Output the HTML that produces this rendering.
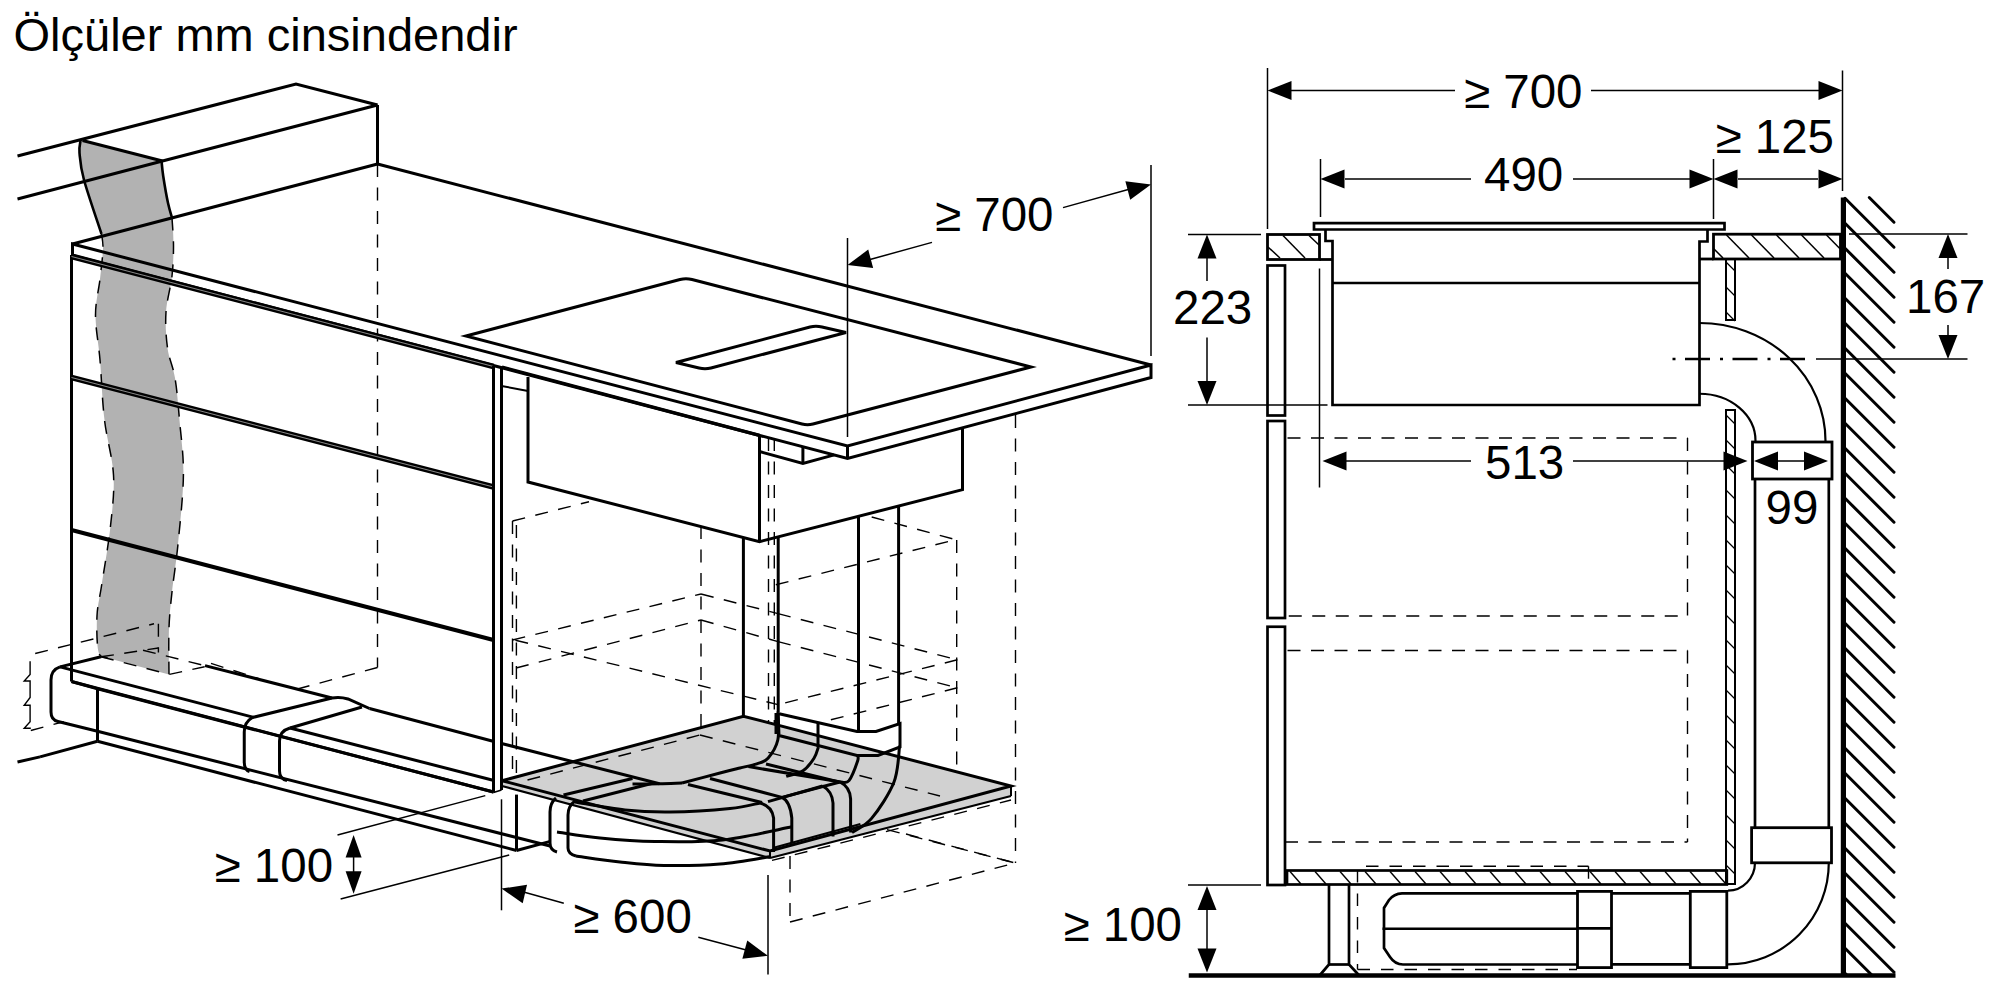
<!DOCTYPE html>
<html><head><meta charset="utf-8"><style>
html,body{margin:0;padding:0;background:#fff;width:2000px;height:1000px;overflow:hidden}
svg{display:block}
</style></head><body>
<svg width="2000" height="1000" viewBox="0 0 2000 1000" style="font-family:'Liberation Sans',sans-serif">
<rect width="2000" height="1000" fill="#fff"/>
<g stroke="#000" fill="none">
<path d="M80.5,141 C80.3,143.0 78.9,146.5 79.5,153 C80.1,159.5 80.3,166.5 84,180 C87.7,193.5 98.3,222.5 101.5,234 C104.7,245.5 103.2,241.5 103,249 C102.8,256.5 101.2,268.0 100,279 C98.8,290.0 95.5,301.5 95.5,315 C95.5,328.5 98.5,342.5 100,360 C101.5,377.5 102.2,400.8 104.5,420 C106.8,439.2 112.5,457.3 113.5,475 C114.5,492.7 112.5,507.5 110.5,526 C108.5,544.5 103.8,571.0 101.5,586 C99.2,601.0 97.5,605.0 97,616 C96.5,627.0 96.8,645.0 98.5,652 C100.2,659.0 106.0,657.0 107.5,658 L169,674.5 C169.0,666.8 168.5,641.8 169,628 C169.5,614.2 170.5,606.0 172,592 C173.5,578.0 176.1,563.5 178,544 C179.9,524.5 183.2,495.7 183.4,475 C183.7,454.3 180.9,436.2 179.5,420 C178.1,403.8 177.0,390.0 175,378 C173.0,366.0 169.0,359.0 167.5,348 C166.0,337.0 165.2,324.0 166,312 C166.8,300.0 170.8,287.0 172,276 C173.2,265.0 173.5,255.7 173.5,246 C173.5,236.3 172.9,224.8 172,217.6 C171.1,210.4 169.5,209.9 168,203 C166.5,196.1 164.3,183.1 163.2,176 C162.1,168.9 161.8,163.1 161.5,160.5 Z" fill="#b2b2b2" stroke="none"/>
<path d="M80.5,141 C80.3,143.0 78.9,146.5 79.5,153 C80.1,159.5 80.3,166.5 84,180 C87.7,193.5 98.6,225.0 101.5,234" stroke-width="2.6" fill="none" />
<path d="M161.5,160.5 C161.8,163.1 162.1,168.9 163.2,176 C164.3,183.1 166.5,196.1 168,203 C169.5,209.9 171.3,215.2 172,217.6" stroke-width="2.6" fill="none" />
<path d="M101.5,234 C101.8,236.5 103.2,241.5 103,249 C102.8,256.5 101.2,268.0 100,279 C98.8,290.0 95.5,301.5 95.5,315 C95.5,328.5 98.5,342.5 100,360 C101.5,377.5 102.2,400.8 104.5,420 C106.8,439.2 112.5,457.3 113.5,475 C114.5,492.7 112.5,507.5 110.5,526 C108.5,544.5 103.8,571.0 101.5,586 C99.2,601.0 97.5,605.0 97,616 C96.5,627.0 96.8,645.0 98.5,652 C100.2,659.0 106.0,657.0 107.5,658" stroke-width="1.5" fill="none" stroke-dasharray="13 10.5" />
<path d="M172,217.6 C172.2,222.3 173.5,236.3 173.5,246 C173.5,255.7 173.2,265.0 172,276 C170.8,287.0 166.8,300.0 166,312 C165.2,324.0 166.0,337.0 167.5,348 C169.0,359.0 173.0,366.0 175,378 C177.0,390.0 178.1,403.8 179.5,420 C180.9,436.2 183.7,454.3 183.4,475 C183.2,495.7 179.9,524.5 178,544 C176.1,563.5 173.5,578.0 172,592 C170.5,606.0 169.5,614.2 169,628 C168.5,641.8 169.0,666.8 169,674.5" stroke-width="1.5" fill="none" stroke-dasharray="13 10.5" />
<polyline points="17.5,156 296,84 377.5,105" stroke-width="3.0" fill="none" stroke-linejoin="miter"/>
<polyline points="17.5,199 162.5,161 377.5,105" stroke-width="3.0" fill="none" stroke-linejoin="miter"/>
<line x1="82.5" y1="140.5" x2="162.5" y2="161" stroke-width="3.0" stroke-linecap="butt"/>
<line x1="377.5" y1="105" x2="377.5" y2="164" stroke-width="3.0" stroke-linecap="butt"/>
<line x1="377.5" y1="164" x2="377.5" y2="667.5" stroke-width="1.4" stroke-dasharray="13 10.5" stroke-linecap="butt"/>
<line x1="377.5" y1="667.5" x2="297.5" y2="689" stroke-width="1.4" stroke-dasharray="13 10.5" stroke-linecap="butt"/>
<polyline points="72.5,244 377.5,164" stroke-width="3.0" fill="none" stroke-linejoin="miter"/>
<line x1="377.5" y1="164" x2="1151" y2="365" stroke-width="3.0" stroke-linecap="butt"/>
<polyline points="72.5,255 72.5,244 847.5,446 1151,365 1151,377.5 847.5,458.5 72.5,255" stroke-width="3.0" fill="none" stroke-linejoin="miter"/>
<line x1="847.5" y1="446" x2="847.5" y2="458.5" stroke-width="3.0" stroke-linecap="butt"/>
<path d="M466,336 L680,279.5 Q686,278 692,279.5 L1031,367 L813,424 Q807.5,425.5 802,424 Z" stroke-width="3.0" fill="none" />
<path d="M676,362.5 L810,327 Q816,325.5 822,327 L846,332.5 L711,368 Q705,369.5 699,368 Z" stroke-width="3.0" fill="none" />
<line x1="71.5" y1="255" x2="71.5" y2="681.5" stroke-width="3.0" stroke-linecap="butt"/>
<line x1="71.5" y1="256.5" x2="493.5" y2="366.5" stroke-width="5.5" stroke-linecap="butt"/>
<line x1="71.5" y1="256.5" x2="493.5" y2="366.5" stroke="#999" stroke-width="0.9"/>
<line x1="71.5" y1="377.5" x2="493.5" y2="487" stroke-width="5.5" stroke-linecap="butt"/>
<line x1="71.5" y1="377.5" x2="493.5" y2="487" stroke="#999" stroke-width="0.9"/>
<line x1="71.5" y1="530" x2="493.5" y2="640" stroke-width="4.2" stroke-linecap="butt"/>
<line x1="493.5" y1="366" x2="493.5" y2="792.6" stroke-width="3.0" stroke-linecap="butt"/>
<line x1="501.5" y1="368" x2="501.5" y2="790" stroke-width="3.0" stroke-linecap="butt"/>
<line x1="71.5" y1="681.5" x2="493.5" y2="792" stroke-width="3.0" stroke-linecap="butt"/>
<line x1="493.5" y1="792.6" x2="501.5" y2="790" stroke-width="1.6" stroke-linecap="butt"/>
<line x1="501.5" y1="386" x2="528" y2="391" stroke-width="2.0" stroke-linecap="butt"/>
<polyline points="502,367 759.5,435.4" stroke-width="3.2" fill="none" stroke-linejoin="miter"/>
<polyline points="528,377 528,482 759.5,541.6 962.5,489.7 962.5,428.5" stroke-width="3.0" fill="none" stroke-linejoin="miter"/>
<line x1="759.5" y1="436" x2="759.5" y2="541.6" stroke-width="3.0" stroke-linecap="butt"/>
<polyline points="759.5,451.5 802.9,463.4 834.3,454.9" stroke-width="3.0" fill="none" stroke-linejoin="miter"/>
<line x1="802.9" y1="447" x2="802.9" y2="463.4" stroke-width="3.0" stroke-linecap="butt"/>
<line x1="768.5" y1="438" x2="768.5" y2="859" stroke-width="1.4" stroke-dasharray="13 10.5" stroke-linecap="butt"/>
<line x1="774.3" y1="438" x2="774.3" y2="850" stroke-width="1.4" stroke-dasharray="13 10.5" stroke-linecap="butt"/>
<line x1="743.4" y1="538" x2="743.4" y2="716.2" stroke-width="3.0" stroke-linecap="butt"/>
<line x1="778.2" y1="536.5" x2="778.2" y2="712" stroke-width="3.0" stroke-linecap="butt"/>
<line x1="858.5" y1="517" x2="858.5" y2="731.6" stroke-width="3.0" stroke-linecap="butt"/>
<line x1="898.6" y1="506.7" x2="898.6" y2="723" stroke-width="3.0" stroke-linecap="butt"/>
<line x1="1015.5" y1="415" x2="1015.5" y2="863" stroke-width="1.4" stroke-dasharray="13 10.5" stroke-linecap="butt"/>
<line x1="512.5" y1="521" x2="589" y2="501.7" stroke-width="1.4" stroke-dasharray="13 10.5" stroke-linecap="butt"/>
<line x1="512.5" y1="521" x2="512.5" y2="780" stroke-width="1.4" stroke-dasharray="13 10.5" stroke-linecap="butt"/>
<line x1="516.4" y1="525" x2="516.4" y2="780" stroke-width="1.4" stroke-dasharray="13 10.5" stroke-linecap="butt"/>
<line x1="871.7" y1="517" x2="956.7" y2="539.9" stroke-width="1.4" stroke-dasharray="13 10.5" stroke-linecap="butt"/>
<line x1="956.7" y1="539.9" x2="956.7" y2="793" stroke-width="1.4" stroke-dasharray="13 10.5" stroke-linecap="butt"/>
<line x1="948" y1="541.6" x2="774.8" y2="585" stroke-width="1.4" stroke-dasharray="13 10.5" stroke-linecap="butt"/>
<line x1="778" y1="613.6" x2="957.4" y2="659.8" stroke-width="1.4" stroke-dasharray="13 10.5" stroke-linecap="butt"/>
<line x1="778" y1="641.6" x2="957.4" y2="687.8" stroke-width="1.4" stroke-dasharray="13 10.5" stroke-linecap="butt"/>
<line x1="957.4" y1="659.8" x2="778" y2="704.6" stroke-width="1.4" stroke-dasharray="13 10.5" stroke-linecap="butt"/>
<line x1="957.4" y1="687.8" x2="830" y2="720" stroke-width="1.4" stroke-dasharray="13 10.5" stroke-linecap="butt"/>
<line x1="701" y1="526" x2="701" y2="735" stroke-width="1.4" stroke-dasharray="13 10.5" stroke-linecap="butt"/>
<line x1="512.5" y1="640" x2="701" y2="594" stroke-width="1.4" stroke-dasharray="13 10.5" stroke-linecap="butt"/>
<line x1="701" y1="594" x2="778" y2="613.6" stroke-width="1.4" stroke-dasharray="13 10.5" stroke-linecap="butt"/>
<line x1="515.4" y1="640.2" x2="778" y2="704.6" stroke-width="1.4" stroke-dasharray="13 10.5" stroke-linecap="butt"/>
<line x1="516" y1="668" x2="701" y2="620" stroke-width="1.4" stroke-dasharray="13 10.5" stroke-linecap="butt"/>
<line x1="701" y1="620" x2="778" y2="641.6" stroke-width="1.4" stroke-dasharray="13 10.5" stroke-linecap="butt"/>
<line x1="790" y1="856" x2="790" y2="922" stroke-width="1.4" stroke-dasharray="13 10.5" stroke-linecap="butt"/>
<line x1="790" y1="922" x2="1015" y2="863" stroke-width="1.4" stroke-dasharray="13 10.5" stroke-linecap="butt"/>
<line x1="906" y1="834" x2="1015" y2="863" stroke-width="1.4" stroke-dasharray="13 10.5" stroke-linecap="butt"/>
<polygon points="743.5,716.2 502,780.7 502,786 770,858 1011,796 1011,786" fill="#d1d1d1" stroke="none"/>
<polyline points="502,780.7 743.5,716.2 1011,786 770,851 502,780.7" stroke-width="3.0" fill="none" stroke-linejoin="miter"/>
<line x1="502" y1="780.7" x2="502" y2="786" stroke-width="2.0" stroke-linecap="butt"/>
<line x1="502" y1="786" x2="770" y2="858" stroke-width="2.0" stroke-linecap="butt"/>
<line x1="770" y1="858" x2="1011" y2="796" stroke-width="2.0" stroke-linecap="butt"/>
<line x1="1011" y1="786" x2="1011" y2="796" stroke-width="2.0" stroke-linecap="butt"/>
<line x1="770" y1="851" x2="770" y2="858" stroke-width="2.0" stroke-linecap="butt"/>
<line x1="527.5" y1="780" x2="700" y2="735" stroke-width="1.4" stroke-dasharray="13 10.5" stroke-linecap="butt"/>
<line x1="700" y1="735" x2="940" y2="796" stroke-width="1.4" stroke-dasharray="13 10.5" stroke-linecap="butt"/>
<line x1="772" y1="860.4" x2="1011" y2="800" stroke-width="1.4" stroke-dasharray="13 10.5" stroke-linecap="butt"/>
<line x1="887" y1="829.6" x2="1015" y2="863" stroke-width="1.4" stroke-dasharray="13 10.5" stroke-linecap="butt"/>
<path d="M563.5,795 L632.5,778.5" stroke-width="3.0" fill="none" />
<path d="M583,801 L653.5,783" stroke-width="3.0" fill="none" />
<path d="M556,798 Q550,803 550,812 L550,843 Q550,850 557,852" stroke-width="3.0" fill="none" />
<path d="M575,801 Q568,806 568,815 L568,848 Q568,854 576,856" stroke-width="3.0" fill="none" />
<path d="M575,802 C583.3,803.3 609.2,808.3 625,810 C640.8,811.7 652.5,812.2 670,812 C687.5,811.8 715.0,810.0 730,808.5 C745.0,807.0 755.0,803.9 760,803" stroke-width="3.0" fill="none" />
<path d="M760,803 Q772,806 773.6,818 L773.6,852" stroke-width="3.0" fill="none" />
<path d="M557,832 C564.2,833.0 583.7,836.4 600,838 C616.3,839.6 634.6,841.2 655,841.5 C675.4,841.8 699.7,842.5 722.5,840 C745.3,837.5 780.2,829.0 791.8,826.8" stroke-width="3.0" fill="none" />
<path d="M576,856 C583.3,857.0 605.3,860.4 620,862 C634.7,863.6 647.3,865.2 664,865.5 C680.7,865.8 702.2,865.5 720,864 C737.8,862.5 762.1,857.8 770.5,856.5" stroke-width="3.0" fill="none" />
<path d="M632.5,784 C637.0,784.0 651.2,783.9 659.5,783.75 C667.8,783.6 678.2,783.1 682,783" stroke-width="3.0" fill="none" />
<path d="M682,783 C688.3,781.3 710.3,775.5 720,773 C729.7,770.5 733.9,769.5 740,768 C746.1,766.5 752.1,765.4 756.8,763.8 C761.5,762.2 764.5,762.2 768,758.2 C771.5,754.2 776.1,747.5 777.8,740 C779.5,732.5 778.0,717.5 778,713" stroke-width="3.0" fill="none" />
<line x1="688" y1="784.5" x2="762" y2="802.5" stroke-width="3.0" stroke-linecap="butt"/>
<line x1="710" y1="778.5" x2="782" y2="797.4" stroke-width="3.0" stroke-linecap="butt"/>
<line x1="748.4" y1="766.6" x2="840.8" y2="782" stroke-width="3.0" stroke-linecap="butt"/>
<line x1="766" y1="764" x2="839" y2="782" stroke-width="3.0" stroke-linecap="butt"/>
<path d="M782,797.4 Q790,801 791.8,818 L791.8,843.6" stroke-width="3.0" fill="none" />
<path d="M822.6,786 Q832,791 833,803 L833,836.6" stroke-width="3.0" fill="none" />
<path d="M840,782 Q850,787 850.6,798.8 L850.6,832.4" stroke-width="3.0" fill="none" />
<line x1="768" y1="801.6" x2="822.6" y2="786" stroke-width="3.0" stroke-linecap="butt"/>
<line x1="782" y1="797.4" x2="840" y2="782" stroke-width="3.0" stroke-linecap="butt"/>
<line x1="773.6" y1="847.8" x2="860.4" y2="824" stroke-width="2.0" stroke-linecap="butt"/>
<path d="M778,713.5 L857,731.5 L876,731.5 L900,723.5 L900,747 L878,755.5 L857,755.5 L779,735.5 Z" stroke-width="3.0" fill="none" />
<line x1="818" y1="722" x2="818" y2="747" stroke-width="3.0" stroke-linecap="butt"/>
<line x1="776" y1="713" x2="776" y2="734" stroke-width="3.0" stroke-linecap="butt"/>
<path d="M818.4,747 C817.7,748.9 816.6,754.2 814,758.2 C811.4,762.2 807.6,767.8 803,770.8 C798.4,773.8 789.0,775.5 786.2,776.4" stroke-width="3.0" fill="none" />
<path d="M857.6,755.5 C857.6,756.4 859.0,756.8 857.6,761 C856.2,765.2 851.8,777.1 849,780.6 C846.2,784.1 842.2,781.8 840.8,782" stroke-width="3.0" fill="none" />
<path d="M899.6,745.6 C898.7,751.7 898.7,769.9 894,782 C889.3,794.1 878.6,810.0 871.6,818.4 C864.6,826.8 855.3,830.1 852,832.4" stroke-width="3.0" fill="none" />
<line x1="60" y1="666.9" x2="253.75" y2="717.4" stroke-width="3.0" stroke-linecap="butt"/>
<path d="M60,666.9 Q51,670 51,680 L51,712 Q51,720 58,721.5 L97.5,731.25" stroke-width="3.0" fill="none" />
<line x1="97.5" y1="731.25" x2="516.5" y2="837.5" stroke-width="3.0" stroke-linecap="butt"/>
<line x1="516.5" y1="837.5" x2="550" y2="846" stroke-width="3.0" stroke-linecap="butt"/>
<line x1="516.5" y1="850.5" x2="550.3" y2="841.4" stroke-width="3.0" stroke-linecap="butt"/>
<line x1="516.5" y1="794.6" x2="516.5" y2="850.5" stroke-width="3.0" stroke-linecap="butt"/>
<line x1="71.5" y1="681.5" x2="97.5" y2="688.75" stroke-width="3.0" stroke-linecap="butt"/>
<line x1="97.5" y1="688.75" x2="493.5" y2="792" stroke-width="3.0" stroke-linecap="butt"/>
<line x1="97.5" y1="688.75" x2="97.5" y2="741.25" stroke-width="3.0" stroke-linecap="butt"/>
<line x1="40" y1="756.9" x2="97.5" y2="741.25" stroke-width="3.0" stroke-linecap="butt"/>
<line x1="17.5" y1="762" x2="40" y2="756.9" stroke-width="3.0" stroke-linecap="butt"/>
<line x1="97.5" y1="741.25" x2="516.5" y2="850.5" stroke-width="3.0" stroke-linecap="butt"/>
<line x1="205" y1="665.6" x2="332" y2="698" stroke-width="3.0" stroke-linecap="butt"/>
<line x1="369.5" y1="708.5" x2="494" y2="741.5" stroke-width="3.0" stroke-linecap="butt"/>
<line x1="501.5" y1="743.5" x2="659.5" y2="783.75" stroke-width="3.0" stroke-linecap="butt"/>
<polyline points="60,666.9 101,656.8" stroke-width="3.0" fill="none" stroke-linejoin="miter"/>
<line x1="35.2" y1="653.5" x2="154" y2="623.8" stroke-width="1.4" stroke-dasharray="13 10.5" stroke-linecap="butt"/>
<line x1="158.4" y1="623.8" x2="158.4" y2="652.4" stroke-width="1.4" stroke-dasharray="13 10.5" stroke-linecap="butt"/>
<line x1="101" y1="656.8" x2="158.4" y2="648" stroke-width="1.4" stroke-dasharray="13 10.5" stroke-linecap="butt"/>
<line x1="143" y1="650.2" x2="204.6" y2="665.6" stroke-width="1.4" stroke-dasharray="13 10.5" stroke-linecap="butt"/>
<line x1="211" y1="663.4" x2="259.6" y2="678.8" stroke-width="1.4" stroke-dasharray="13 10.5" stroke-linecap="butt"/>
<line x1="169.4" y1="674.4" x2="204.6" y2="666.7" stroke-width="1.4" stroke-dasharray="13 10.5" stroke-linecap="butt"/>
<line x1="101" y1="656.8" x2="169.4" y2="674.4" stroke-width="1.4" stroke-dasharray="13 10.5" stroke-linecap="butt"/>
<path d="M30.1,661.2 V674.4 L24.2,681 H30.1 V697.5 L24.2,705.2 H30.1 V721.7 L24.2,728.3 H30.8" stroke-width="1.4" fill="none" />
<line x1="30.8" y1="730.5" x2="63.8" y2="721.7" stroke-width="1.4" stroke-dasharray="13 10.5" stroke-linecap="butt"/>
<path d="M252.5,717.5 L332,698 Q340,696.5 348,699 L369.5,708.5" stroke-width="3.0" fill="none" />
<line x1="290" y1="728" x2="362" y2="707" stroke-width="3.0" stroke-linecap="butt"/>
<path d="M252.5,717.5 Q244.25,722 244.25,732 L244.25,762 Q244.25,770 249.5,771.5" stroke-width="3.0" fill="none" />
<path d="M290,728 Q279.5,731 279.5,741 L279.5,771 Q279.5,779 287,780.5" stroke-width="3.0" fill="none" />
<line x1="290" y1="728" x2="494" y2="780.5" stroke-width="3.0" stroke-linecap="butt"/>
<line x1="847.5" y1="238" x2="847.5" y2="437" stroke-width="1.5" stroke-linecap="butt"/>
<line x1="1151" y1="165" x2="1151" y2="356" stroke-width="1.5" stroke-linecap="butt"/>
<line x1="932" y1="242.4" x2="870" y2="259.5" stroke-width="1.5" stroke-linecap="butt"/>
<polygon points="847.5,265 868.23,249.62 873.14,267.98" fill="#000" stroke="none"/>
<line x1="1063" y1="207.6" x2="1130" y2="189" stroke-width="1.5" stroke-linecap="butt"/>
<polygon points="1151,184.4 1130.21,199.70 1125.37,181.33" fill="#000" stroke="none"/>
<text x="935" y="231" font-size="47.5" text-anchor="start" fill="#000" stroke="none">≥ 700</text>
<line x1="337.5" y1="835" x2="485.3" y2="795.6" stroke-width="1.5" stroke-linecap="butt"/>
<line x1="340.6" y1="899" x2="509.2" y2="855" stroke-width="1.5" stroke-linecap="butt"/>
<line x1="353.6" y1="845" x2="353.6" y2="884" stroke-width="1.5" stroke-linecap="butt"/>
<polygon points="353.6,835 361.60,857.60 345.60,857.60" fill="#000" stroke="none"/>
<polygon points="353.6,893.8 345.60,871.20 361.60,871.20" fill="#000" stroke="none"/>
<text x="214.6" y="882" font-size="47.5" text-anchor="start" fill="#000" stroke="none">≥ 100</text>
<line x1="501.5" y1="799.3" x2="501.5" y2="910.3" stroke-width="1.5" stroke-linecap="butt"/>
<line x1="768" y1="875" x2="768" y2="974.5" stroke-width="1.5" stroke-linecap="butt"/>
<line x1="563.8" y1="903.2" x2="520" y2="891" stroke-width="1.5" stroke-linecap="butt"/>
<polygon points="501.5,888.6 527.03,884.83 522.70,903.33" fill="#000" stroke="none"/>
<line x1="698.3" y1="937.25" x2="750" y2="951" stroke-width="1.5" stroke-linecap="butt"/>
<polygon points="768,955.85 742.36,958.84 747.26,940.48" fill="#000" stroke="none"/>
<text x="573.3" y="933.2" font-size="47.5" text-anchor="start" fill="#000" stroke="none">≥ 600</text>
<line x1="1267.5" y1="68" x2="1267.5" y2="229" stroke-width="1.5" stroke-linecap="butt"/>
<line x1="1842.5" y1="70.5" x2="1842.5" y2="191" stroke-width="1.5" stroke-linecap="butt"/>
<line x1="1320.5" y1="159" x2="1320.5" y2="217" stroke-width="1.5" stroke-linecap="butt"/>
<line x1="1713.5" y1="159" x2="1713.5" y2="219" stroke-width="1.5" stroke-linecap="butt"/>
<line x1="1290" y1="90.5" x2="1455" y2="90.5" stroke-width="1.5" stroke-linecap="butt"/>
<polygon points="1267.5,90.5 1291.50,81.00 1291.50,100.00" fill="#000" stroke="none"/>
<line x1="1591" y1="90.5" x2="1820" y2="90.5" stroke-width="1.5" stroke-linecap="butt"/>
<polygon points="1842.5,90.5 1818.50,100.00 1818.50,81.00" fill="#000" stroke="none"/>
<text x="1464" y="107.5" font-size="47.5" text-anchor="start" fill="#000" stroke="none">≥ 700</text>
<line x1="1345" y1="179" x2="1471" y2="179" stroke-width="1.5" stroke-linecap="butt"/>
<polygon points="1320.5,179 1344.50,169.50 1344.50,188.50" fill="#000" stroke="none"/>
<line x1="1573" y1="179" x2="1690" y2="179" stroke-width="1.5" stroke-linecap="butt"/>
<polygon points="1713.5,179 1689.50,188.50 1689.50,169.50" fill="#000" stroke="none"/>
<text x="1484" y="191" font-size="47.5" text-anchor="start" fill="#000" stroke="none">490</text>
<line x1="1738" y1="179" x2="1818" y2="179" stroke-width="1.5" stroke-linecap="butt"/>
<polygon points="1713.5,179 1737.50,169.50 1737.50,188.50" fill="#000" stroke="none"/>
<polygon points="1842.5,179 1818.50,188.50 1818.50,169.50" fill="#000" stroke="none"/>
<text x="1715.5" y="153" font-size="47.5" text-anchor="start" fill="#000" stroke="none">≥ 125</text>
<path d="M1314,223.2 H1724.5 V229.5 H1314 Z" stroke-width="2.7" fill="none" />
<polyline points="1325.5,229.5 1325.5,241 1332.5,241 1332.5,405 1699.5,405 1699.5,241.5 1707.5,241.5 1707.5,229.5" stroke-width="2.7" fill="none" stroke-linejoin="miter"/>
<line x1="1332.5" y1="283" x2="1699.5" y2="283" stroke-width="2.7" stroke-linecap="butt"/>
<rect x="1267.5" y="234.5" width="52" height="25" fill="none" stroke-width="2.8"/>
<line x1="1319.5" y1="259.5" x2="1332.5" y2="259.5" stroke-width="2.8" stroke-linecap="butt"/>
<line x1="1283" y1="235.5" x2="1305" y2="258" stroke-width="1.5" stroke-linecap="butt"/>
<line x1="1309" y1="235.5" x2="1319" y2="245" stroke-width="1.5" stroke-linecap="butt"/>
<line x1="1268" y1="247" x2="1280" y2="258" stroke-width="1.5" stroke-linecap="butt"/>
<rect x="1713.5" y="234.2" width="127" height="24.8" fill="none" stroke-width="2.8"/>
<line x1="1699.5" y1="259" x2="1713.5" y2="259" stroke-width="2.8" stroke-linecap="butt"/>
<line x1="1726.5" y1="235" x2="1749.0" y2="258" stroke-width="1.5" stroke-linecap="butt"/>
<line x1="1751.5" y1="235" x2="1774.0" y2="258" stroke-width="1.5" stroke-linecap="butt"/>
<line x1="1776.5" y1="235" x2="1799.0" y2="258" stroke-width="1.5" stroke-linecap="butt"/>
<line x1="1801.5" y1="235" x2="1824.0" y2="258" stroke-width="1.5" stroke-linecap="butt"/>
<line x1="1826.5" y1="235" x2="1840" y2="248.8" stroke-width="1.5" stroke-linecap="butt"/>
<line x1="1713.5" y1="248.5" x2="1723" y2="258" stroke-width="1.5" stroke-linecap="butt"/>
<line x1="1188" y1="234.5" x2="1261" y2="234.5" stroke-width="1.5" stroke-linecap="butt"/>
<line x1="1849" y1="234" x2="1967.5" y2="234" stroke-width="1.5" stroke-linecap="butt"/>
<line x1="1207" y1="258" x2="1207" y2="281" stroke-width="1.5" stroke-linecap="butt"/>
<line x1="1207" y1="337.5" x2="1207" y2="382" stroke-width="1.5" stroke-linecap="butt"/>
<polygon points="1207,234.5 1216.50,258.50 1197.50,258.50" fill="#000" stroke="none"/>
<polygon points="1207,405 1197.50,381.00 1216.50,381.00" fill="#000" stroke="none"/>
<line x1="1188" y1="405" x2="1327.5" y2="405" stroke-width="1.5" stroke-linecap="butt"/>
<text x="1173" y="324" font-size="47.5" text-anchor="start" fill="#000" stroke="none">223</text>
<rect x="1267.5" y="265.5" width="17.5" height="150.0" fill="none" stroke-width="2.7"/>
<rect x="1267.5" y="421" width="17.5" height="197" fill="none" stroke-width="2.7"/>
<rect x="1267.5" y="626.75" width="17.5" height="258.25" fill="none" stroke-width="2.7"/>
<line x1="1319.5" y1="268.5" x2="1319.5" y2="487.5" stroke-width="1.5" stroke-linecap="butt"/>
<line x1="1287.5" y1="438" x2="1687.5" y2="438" stroke-width="1.4" stroke-dasharray="13 10.5" stroke-linecap="butt"/>
<line x1="1687.5" y1="438" x2="1687.5" y2="616" stroke-width="1.4" stroke-dasharray="13 10.5" stroke-linecap="butt"/>
<line x1="1288.75" y1="616" x2="1687.5" y2="616" stroke-width="1.4" stroke-dasharray="13 10.5" stroke-linecap="butt"/>
<line x1="1287.5" y1="650.5" x2="1687.5" y2="650.5" stroke-width="1.4" stroke-dasharray="13 10.5" stroke-linecap="butt"/>
<line x1="1687.5" y1="650.5" x2="1687.5" y2="842" stroke-width="1.4" stroke-dasharray="13 10.5" stroke-linecap="butt"/>
<line x1="1285" y1="842" x2="1687.5" y2="842" stroke-width="1.4" stroke-dasharray="13 10.5" stroke-linecap="butt"/>
<line x1="1346" y1="461" x2="1471" y2="461" stroke-width="1.5" stroke-linecap="butt"/>
<polygon points="1322.5,461 1346.50,451.50 1346.50,470.50" fill="#000" stroke="none"/>
<line x1="1573" y1="461" x2="1725" y2="461" stroke-width="1.5" stroke-linecap="butt"/>
<polygon points="1747.5,461 1723.50,470.50 1723.50,451.50" fill="#000" stroke="none"/>
<text x="1485" y="479" font-size="47.5" text-anchor="start" fill="#000" stroke="none">513</text>
<rect x="1726" y="259" width="9" height="61" fill="none" stroke-width="2"/>
<rect x="1726" y="410" width="9" height="474" fill="none" stroke-width="2"/>
<line x1="1726" y1="262" x2="1735" y2="271" stroke-width="1.2" stroke-linecap="butt"/>
<line x1="1726" y1="287" x2="1735" y2="296" stroke-width="1.2" stroke-linecap="butt"/>
<line x1="1726" y1="312" x2="1735" y2="321" stroke-width="1.2" stroke-linecap="butt"/>
<line x1="1726" y1="415" x2="1735" y2="424" stroke-width="1.2" stroke-linecap="butt"/>
<line x1="1726" y1="440" x2="1735" y2="449" stroke-width="1.2" stroke-linecap="butt"/>
<line x1="1726" y1="465" x2="1735" y2="474" stroke-width="1.2" stroke-linecap="butt"/>
<line x1="1726" y1="490" x2="1735" y2="499" stroke-width="1.2" stroke-linecap="butt"/>
<line x1="1726" y1="515" x2="1735" y2="524" stroke-width="1.2" stroke-linecap="butt"/>
<line x1="1726" y1="540" x2="1735" y2="549" stroke-width="1.2" stroke-linecap="butt"/>
<line x1="1726" y1="565" x2="1735" y2="574" stroke-width="1.2" stroke-linecap="butt"/>
<line x1="1726" y1="590" x2="1735" y2="599" stroke-width="1.2" stroke-linecap="butt"/>
<line x1="1726" y1="615" x2="1735" y2="624" stroke-width="1.2" stroke-linecap="butt"/>
<line x1="1726" y1="640" x2="1735" y2="649" stroke-width="1.2" stroke-linecap="butt"/>
<line x1="1726" y1="665" x2="1735" y2="674" stroke-width="1.2" stroke-linecap="butt"/>
<line x1="1726" y1="690" x2="1735" y2="699" stroke-width="1.2" stroke-linecap="butt"/>
<line x1="1726" y1="715" x2="1735" y2="724" stroke-width="1.2" stroke-linecap="butt"/>
<line x1="1726" y1="740" x2="1735" y2="749" stroke-width="1.2" stroke-linecap="butt"/>
<line x1="1726" y1="765" x2="1735" y2="774" stroke-width="1.2" stroke-linecap="butt"/>
<line x1="1726" y1="790" x2="1735" y2="799" stroke-width="1.2" stroke-linecap="butt"/>
<line x1="1726" y1="815" x2="1735" y2="824" stroke-width="1.2" stroke-linecap="butt"/>
<line x1="1726" y1="840" x2="1735" y2="849" stroke-width="1.2" stroke-linecap="butt"/>
<line x1="1726" y1="865" x2="1735" y2="874" stroke-width="1.2" stroke-linecap="butt"/>
<line x1="1843.4" y1="197.5" x2="1843.4" y2="975" stroke-width="5.2" stroke-linecap="butt"/>
<line x1="1869.25" y1="197.5" x2="1894" y2="222.25" stroke-width="3.0" stroke-linecap="round"/>
<line x1="1845" y1="198.25" x2="1894" y2="247.25" stroke-width="3.0" stroke-linecap="round"/>
<line x1="1845" y1="223.25" x2="1894" y2="272.25" stroke-width="3.0" stroke-linecap="round"/>
<line x1="1845" y1="248.25" x2="1894" y2="297.25" stroke-width="3.0" stroke-linecap="round"/>
<line x1="1845" y1="273.25" x2="1894" y2="322.25" stroke-width="3.0" stroke-linecap="round"/>
<line x1="1845" y1="298.25" x2="1894" y2="347.25" stroke-width="3.0" stroke-linecap="round"/>
<line x1="1845" y1="323.25" x2="1894" y2="372.25" stroke-width="3.0" stroke-linecap="round"/>
<line x1="1845" y1="348.25" x2="1894" y2="397.25" stroke-width="3.0" stroke-linecap="round"/>
<line x1="1845" y1="373.25" x2="1894" y2="422.25" stroke-width="3.0" stroke-linecap="round"/>
<line x1="1845" y1="398.25" x2="1894" y2="447.25" stroke-width="3.0" stroke-linecap="round"/>
<line x1="1845" y1="423.25" x2="1894" y2="472.25" stroke-width="3.0" stroke-linecap="round"/>
<line x1="1845" y1="448.25" x2="1894" y2="497.25" stroke-width="3.0" stroke-linecap="round"/>
<line x1="1845" y1="473.25" x2="1894" y2="522.25" stroke-width="3.0" stroke-linecap="round"/>
<line x1="1845" y1="498.25" x2="1894" y2="547.25" stroke-width="3.0" stroke-linecap="round"/>
<line x1="1845" y1="523.25" x2="1894" y2="572.25" stroke-width="3.0" stroke-linecap="round"/>
<line x1="1845" y1="548.25" x2="1894" y2="597.25" stroke-width="3.0" stroke-linecap="round"/>
<line x1="1845" y1="573.25" x2="1894" y2="622.25" stroke-width="3.0" stroke-linecap="round"/>
<line x1="1845" y1="598.25" x2="1894" y2="647.25" stroke-width="3.0" stroke-linecap="round"/>
<line x1="1845" y1="623.25" x2="1894" y2="672.25" stroke-width="3.0" stroke-linecap="round"/>
<line x1="1845" y1="648.25" x2="1894" y2="697.25" stroke-width="3.0" stroke-linecap="round"/>
<line x1="1845" y1="673.25" x2="1894" y2="722.25" stroke-width="3.0" stroke-linecap="round"/>
<line x1="1845" y1="698.25" x2="1894" y2="747.25" stroke-width="3.0" stroke-linecap="round"/>
<line x1="1845" y1="723.25" x2="1894" y2="772.25" stroke-width="3.0" stroke-linecap="round"/>
<line x1="1845" y1="748.25" x2="1894" y2="797.25" stroke-width="3.0" stroke-linecap="round"/>
<line x1="1845" y1="773.25" x2="1894" y2="822.25" stroke-width="3.0" stroke-linecap="round"/>
<line x1="1845" y1="798.25" x2="1894" y2="847.25" stroke-width="3.0" stroke-linecap="round"/>
<line x1="1845" y1="823.25" x2="1894" y2="872.25" stroke-width="3.0" stroke-linecap="round"/>
<line x1="1845" y1="848.25" x2="1894" y2="897.25" stroke-width="3.0" stroke-linecap="round"/>
<line x1="1845" y1="873.25" x2="1894" y2="922.25" stroke-width="3.0" stroke-linecap="round"/>
<line x1="1845" y1="898.25" x2="1894" y2="947.25" stroke-width="3.0" stroke-linecap="round"/>
<line x1="1845" y1="923.25" x2="1894" y2="972.25" stroke-width="3.0" stroke-linecap="round"/>
<line x1="1845" y1="948.25" x2="1871.75" y2="975" stroke-width="3.0" stroke-linecap="butt"/>
<line x1="1845" y1="973.25" x2="1846.75" y2="975" stroke-width="3.0" stroke-linecap="butt"/>
<path d="M1699.5,323 A126,118 0 0 1 1825.5,441" stroke-width="2.2" fill="none" />
<path d="M1699.5,393.75 A56,47 0 0 1 1755.5,441" stroke-width="2.2" fill="none" />
<line x1="1672.5" y1="359" x2="1805" y2="359" stroke-width="2.7" stroke-dasharray="3 9.5 25 10" stroke-linecap="butt"/>
<line x1="1816" y1="359" x2="1967.5" y2="359" stroke-width="1.5" stroke-linecap="butt"/>
<rect x="1752.5" y="442" width="79.5" height="37" fill="none" stroke-width="2.8"/>
<line x1="1777" y1="461" x2="1805" y2="461" stroke-width="1.5" stroke-linecap="butt"/>
<polygon points="1754,461 1778.00,451.50 1778.00,470.50" fill="#000" stroke="none"/>
<polygon points="1828,461 1804.00,470.50 1804.00,451.50" fill="#000" stroke="none"/>
<text x="1765.5" y="523.75" font-size="47.5" text-anchor="start" fill="#000" stroke="none">99</text>
<line x1="1755" y1="479" x2="1755" y2="827.7" stroke-width="2.7" stroke-linecap="butt"/>
<line x1="1828.8" y1="479" x2="1828.8" y2="827.7" stroke-width="2.7" stroke-linecap="butt"/>
<line x1="1948" y1="255" x2="1948" y2="269" stroke-width="1.5" stroke-linecap="butt"/>
<line x1="1948" y1="325" x2="1948" y2="337" stroke-width="1.5" stroke-linecap="butt"/>
<polygon points="1948,234 1957.50,258.00 1938.50,258.00" fill="#000" stroke="none"/>
<polygon points="1948,359 1938.50,335.00 1957.50,335.00" fill="#000" stroke="none"/>
<text x="1906" y="312.5" font-size="47.5" text-anchor="start" fill="#000" stroke="none">167</text>
<rect x="1751.6" y="827.7" width="79.9" height="35.1" fill="none" stroke-width="2.8"/>
<path d="M1755,862.8 A27,28 0 0 1 1728,890.6" stroke-width="2.2" fill="none" />
<path d="M1828.8,862.8 A100.8,101.5 0 0 1 1728,964.3" stroke-width="2.2" fill="none" />
<rect x="1287" y="870.5" width="439.8" height="14" fill="none" stroke-width="2.7"/>
<line x1="1290" y1="871.5" x2="1301" y2="884" stroke-width="1.4" stroke-linecap="butt"/>
<line x1="1315" y1="871.5" x2="1326" y2="884" stroke-width="1.4" stroke-linecap="butt"/>
<line x1="1340" y1="871.5" x2="1351" y2="884" stroke-width="1.4" stroke-linecap="butt"/>
<line x1="1365" y1="871.5" x2="1376" y2="884" stroke-width="1.4" stroke-linecap="butt"/>
<line x1="1390" y1="871.5" x2="1401" y2="884" stroke-width="1.4" stroke-linecap="butt"/>
<line x1="1415" y1="871.5" x2="1426" y2="884" stroke-width="1.4" stroke-linecap="butt"/>
<line x1="1440" y1="871.5" x2="1451" y2="884" stroke-width="1.4" stroke-linecap="butt"/>
<line x1="1465" y1="871.5" x2="1476" y2="884" stroke-width="1.4" stroke-linecap="butt"/>
<line x1="1490" y1="871.5" x2="1501" y2="884" stroke-width="1.4" stroke-linecap="butt"/>
<line x1="1515" y1="871.5" x2="1526" y2="884" stroke-width="1.4" stroke-linecap="butt"/>
<line x1="1540" y1="871.5" x2="1551" y2="884" stroke-width="1.4" stroke-linecap="butt"/>
<line x1="1565" y1="871.5" x2="1576" y2="884" stroke-width="1.4" stroke-linecap="butt"/>
<line x1="1590" y1="871.5" x2="1601" y2="884" stroke-width="1.4" stroke-linecap="butt"/>
<line x1="1615" y1="871.5" x2="1626" y2="884" stroke-width="1.4" stroke-linecap="butt"/>
<line x1="1640" y1="871.5" x2="1651" y2="884" stroke-width="1.4" stroke-linecap="butt"/>
<line x1="1665" y1="871.5" x2="1676" y2="884" stroke-width="1.4" stroke-linecap="butt"/>
<line x1="1690" y1="871.5" x2="1701" y2="884" stroke-width="1.4" stroke-linecap="butt"/>
<line x1="1715" y1="871.5" x2="1726" y2="884" stroke-width="1.4" stroke-linecap="butt"/>
<line x1="1188.75" y1="975.5" x2="1895.5" y2="975.5" stroke-width="4.5" stroke-linecap="butt"/>
<line x1="1188" y1="885" x2="1261" y2="885" stroke-width="1.5" stroke-linecap="butt"/>
<line x1="1207" y1="910" x2="1207" y2="950" stroke-width="1.5" stroke-linecap="butt"/>
<polygon points="1207,886 1216.50,910.00 1197.50,910.00" fill="#000" stroke="none"/>
<polygon points="1207,972.5 1197.50,948.50 1216.50,948.50" fill="#000" stroke="none"/>
<text x="1063.5" y="941.25" font-size="47.5" text-anchor="start" fill="#000" stroke="none">≥ 100</text>
<polyline points="1329,885 1329,964.5 1320,975" stroke-width="2.7" fill="none" stroke-linejoin="miter"/>
<polyline points="1349,885 1349,964.5 1358.75,975" stroke-width="2.7" fill="none" stroke-linejoin="miter"/>
<line x1="1329" y1="964.5" x2="1349" y2="964.5" stroke-width="2.7" stroke-linecap="butt"/>
<line x1="1357.5" y1="870" x2="1357.5" y2="969.5" stroke-width="1.4" stroke-dasharray="12.5 11" stroke-linecap="butt"/>
<line x1="1357.5" y1="969.5" x2="1577" y2="969.5" stroke-width="1.4" stroke-dasharray="12.5 11" stroke-linecap="butt"/>
<line x1="1366" y1="866.25" x2="1588.5" y2="866.25" stroke-width="1.4" stroke-dasharray="12.5 11" stroke-linecap="butt"/>
<line x1="1588.5" y1="866.25" x2="1588.5" y2="889" stroke-width="1.4" stroke-dasharray="12.5 11" stroke-linecap="butt"/>
<path d="M1577.5,893.3 H1402 Q1394,893.5 1389,900 L1384,908 V948 L1390,957 Q1395,964.5 1403,964.5 H1577.5" stroke-width="2.7" fill="none" />
<line x1="1382.5" y1="928.75" x2="1577.5" y2="928.75" stroke-width="2.7" stroke-linecap="butt"/>
<rect x="1577.5" y="891.4" width="34" height="76.2" fill="none" stroke-width="2.8"/>
<line x1="1577.5" y1="928.4" x2="1611.5" y2="928.4" stroke-width="2.7" stroke-linecap="butt"/>
<line x1="1611.5" y1="893.3" x2="1690.3" y2="893.3" stroke-width="2.7" stroke-linecap="butt"/>
<line x1="1611.5" y1="964.3" x2="1690.3" y2="964.3" stroke-width="2.7" stroke-linecap="butt"/>
<rect x="1690.3" y="891.4" width="36.5" height="76.2" fill="none" stroke-width="2.8"/>
<text x="13.5" y="50.6" font-size="47" text-anchor="start" fill="#000" stroke="none">Ölçüler mm cinsindendir</text>
</g>
</svg>
</body></html>
